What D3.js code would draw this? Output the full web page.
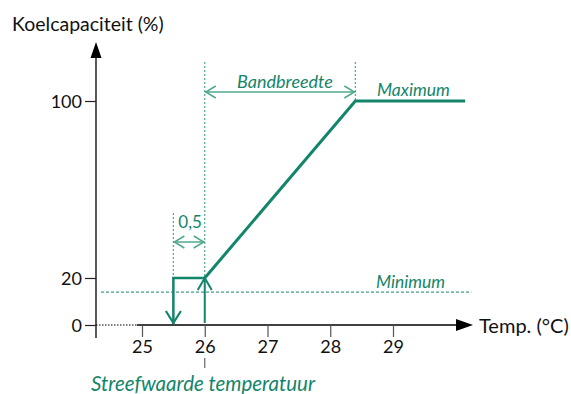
<!DOCTYPE html>
<html>
<head>
<meta charset="utf-8">
<script src="https://cdn.jsdelivr.net/npm/d3@7"></script>
<style>
  html, body { margin: 0; padding: 0; background: #fff; }
  svg { display: block; font-family: Lato, "Open Sans", sans-serif; }
</style>
</head>
<body>
<svg id="chart" width="571" height="394"></svg>
<script>
// Cooling capacity versus temperature: proportional band with hysteresis
const yTicks = [0, 20, 100];
const xTicks = [25, 26, 27, 28, 29];
const curveTemp = [26, 28.4, 30.15];
const curveCapacity = [20, 100, 100];
const setpoint = 26;
const hysteresis = 0.5;
const minimumLevel = 14;
const minimumLineEnd = 30.25;

const green = "#13856a";
const lightGreen = "#4fa98d";

const svg = d3.select("#chart");

const x = d3.scaleLinear().domain([25, 29]).range([142, 393]);
// the vertical axis is compressed between 0 and 20
const y = d3.scaleLinear().domain([0, 20, 100]).range([325, 278, 101]);

const yAxisX = 96;
const xAxisY = y(0);

// y axis line + filled arrow head
svg.append("line").attr("x1", yAxisX).attr("x2", yAxisX)
  .attr("y1", 338).attr("y2", 56).attr("stroke", "#000").attr("stroke-width", 1.3);
svg.append("path").attr("d", `M${yAxisX},42 L${yAxisX - 5.5},58 L${yAxisX + 5.5},58 Z`).attr("fill", "#000");

// x axis: dotted start then solid, filled arrow head
svg.append("line").attr("x1", yAxisX).attr("x2", 137).attr("y1", xAxisY).attr("y2", xAxisY)
  .attr("stroke", "#000").attr("stroke-width", 1).attr("stroke-dasharray", "1.5,1.5");
svg.append("line").attr("x1", 137).attr("x2", 458).attr("y1", xAxisY).attr("y2", xAxisY)
  .attr("stroke", "#000").attr("stroke-width", 1.3);
svg.append("path").attr("d", `M473,${xAxisY} L456,${xAxisY - 6} L456,${xAxisY + 6} Z`).attr("fill", "#000");

// y ticks
const yAxis = svg.append("g").attr("transform", `translate(${yAxisX},0)`)
  .call(d3.axisLeft(y).tickValues(yTicks).tickSize(11).tickPadding(3).tickFormat(d3.format("d")));
yAxis.select(".domain").remove();
yAxis.selectAll("line").attr("stroke", "#222").attr("stroke-width", 1.2);
yAxis.selectAll("text").attr("font-size", 18).attr("fill", "#111")
  .attr("font-family", "Lato, sans-serif").attr("dy", "0.36em");

// x ticks
const xAxis = svg.append("g").attr("transform", `translate(0,${xAxisY})`)
  .call(d3.axisBottom(x).tickValues(xTicks).tickSize(12).tickPadding(3).tickFormat(d3.format("d")));
xAxis.select(".domain").remove();
xAxis.selectAll("line").attr("stroke", "#555").attr("stroke-width", 1.2);
xAxis.selectAll("text").attr("font-size", 18).attr("fill", "#111")
  .attr("font-family", "Lato, sans-serif");

// axis titles
svg.append("text").attr("x", 12).attr("y", 31).attr("font-size", 19.5).attr("fill", "#111")
  .text("Koelcapaciteit (%)");
svg.append("text").attr("x", 479).attr("y", 333).attr("font-size", 20).attr("fill", "#111")
  .text("Temp. (°C)");

// minimum level dashed line
svg.append("line").attr("x1", 101).attr("x2", x(minimumLineEnd))
  .attr("y1", y(minimumLevel)).attr("y2", y(minimumLevel))
  .attr("stroke", green).attr("stroke-width", 1).attr("stroke-dasharray", "3,2");

// vertical guide lines
const guide = (xv, y1, y2) => svg.append("line")
  .attr("x1", x(xv)).attr("x2", x(xv)).attr("y1", y1).attr("y2", y2)
  .attr("stroke", lightGreen).attr("stroke-width", 1.2).attr("stroke-dasharray", "2,2");
guide(setpoint, 62, y(20));
guide(setpoint - hysteresis, 213, y(20));
guide(curveTemp[1], 62, y(100));

// double-headed dimension arrows
function dimension(x1, x2, yy) {
  const g = svg.append("g").attr("stroke", lightGreen).attr("stroke-width", 1.5).attr("fill", "none");
  g.append("line").attr("x1", x1).attr("x2", x2).attr("y1", yy).attr("y2", yy);
  g.append("path").attr("d", `M${x1 + 11},${yy - 6} L${x1 + 1},${yy} L${x1 + 11},${yy + 6}`);
  g.append("path").attr("d", `M${x2 - 11},${yy - 6} L${x2 - 1},${yy} L${x2 - 11},${yy + 6}`);
}
dimension(x(setpoint), x(curveTemp[1]), 92);
dimension(x(setpoint - hysteresis), x(setpoint), 242);

// capacity curve
const pts = curveTemp.map((t, i) => [x(t), y(curveCapacity[i])]);
svg.append("path").attr("d", d3.line()(pts))
  .attr("fill", "none").attr("stroke", green).attr("stroke-width", 3).attr("stroke-linejoin", "miter");

// hysteresis loop: step at 20 % and open arrows
const xOff = x(setpoint - hysteresis), xOn = x(setpoint);
svg.append("path").attr("d", d3.line()([[xOff, y(0) - 1], [xOff, y(20)], [xOn, y(20)]]))
  .attr("fill", "none").attr("stroke", green).attr("stroke-width", 2.5);
svg.append("path").attr("d", `M${xOff - 7.5},${y(0) - 14} L${xOff},${y(0) - 2} L${xOff + 7.5},${y(0) - 14}`)
  .attr("fill", "none").attr("stroke", green).attr("stroke-width", 2.2);
svg.append("line").attr("x1", xOn).attr("x2", xOn).attr("y1", y(0) - 2).attr("y2", y(20))
  .attr("stroke", green).attr("stroke-width", 2);
svg.append("path").attr("d", `M${xOn - 7},${y(20) + 12} L${xOn},${y(20)} L${xOn + 7},${y(20) + 12}`)
  .attr("fill", "none").attr("stroke", green).attr("stroke-width", 2);

// labels
const label = (txt, xx, yy, size, italic, anchor) => svg.append("text")
  .attr("x", xx).attr("y", yy).attr("font-size", size).attr("fill", green)
  .attr("font-style", italic ? "italic" : "normal").attr("text-anchor", anchor || "start").text(txt);
label("Bandbreedte", 285, 88, 18, true, "middle");
label("Maximum", 377, 96, 17.5, true);
label("Minimum", 376, 288, 17.5, true);
label("0,5", (xOff + xOn) / 2 + 1, 228, 17, false, "middle");
label("Streefwaarde temperatuur", 91, 391, 20.5, true);

// setpoint marker under the axis
svg.append("line").attr("x1", xOn).attr("x2", xOn).attr("y1", 358).attr("y2", 368)
  .attr("stroke", "#666").attr("stroke-width", 1.2);
</script>
</body>
</html>
